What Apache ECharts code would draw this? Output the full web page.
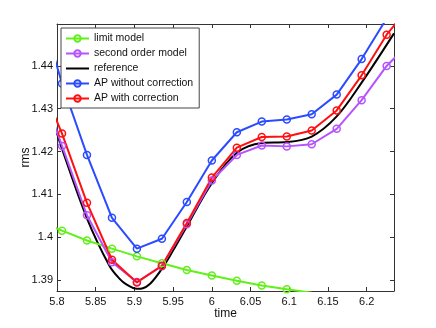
<!DOCTYPE html>
<html>
<head>
<meta charset="utf-8">
<script src="https://cdn.jsdelivr.net/npm/echarts@6/dist/echarts.min.js"></script>
<style>
  html, body { margin: 0; padding: 0; background: #fff; }
  #chart { width: 436px; height: 328px; }
</style>
</head>
<body>
<div id="chart"></div>
<script>
// sample times of the models (one marker per step)
const modelTime = [5.7742, 5.8065, 5.8387, 5.871, 5.9032, 5.9355, 5.9677, 6.0, 6.0323, 6.0645, 6.0968, 6.129, 6.1613, 6.1935, 6.2258, 6.2581];

const limitModel = [1.4039, 1.4015, 1.3992, 1.3973, 1.3955, 1.3939, 1.3923, 1.3910, 1.3898, 1.3887, 1.3878, 1.3870];
const secondOrder = [1.4376, 1.4213, 1.4051, 1.3941, 1.3895, 1.3932, 1.4030, 1.4132, 1.4192, 1.4214, 1.4212, 1.4217, 1.4253, 1.4320, 1.4400, 1.4459];
const apNoCorr = [1.4557, 1.4359, 1.4192, 1.4045, 1.3973, 1.3996, 1.4082, 1.4179, 1.4245, 1.4270, 1.4275, 1.4287, 1.4333, 1.4416, 1.4511];
const apCorr = [1.4381, 1.4242, 1.4080, 1.3947, 1.3894, 1.3933, 1.4033, 1.4139, 1.4209, 1.4234, 1.4235, 1.4249, 1.4296, 1.4378, 1.4473, 1.4544];

// reference curve (no markers)
const refTime = [5.8, 5.8065, 5.8387, 5.8677, 5.8806, 5.89, 5.9032, 5.91, 5.9203, 5.9355, 5.95, 5.9677, 6.0, 6.0323, 6.0645, 6.0968, 6.129, 6.1613, 6.1935, 6.2353];
const refValue = [1.4243, 1.4206, 1.4044, 1.3933, 1.3903, 1.3889, 1.3879, 1.3880, 1.3891, 1.3926, 1.3969, 1.4025, 1.4126, 1.4197, 1.4220, 1.4222, 1.4235, 1.4282, 1.4361, 1.4476];

const legendNames = ['limit model', 'second order model', 'reference', 'AP without correction', 'AP with correction'];

const xLimits = [5.8, 6.2353];
const yLimits = [1.3874, 1.4498];

function pairs(xs, ys) {
  return ys.map((y, i) => [xs[i], y]);
}

const font = '"Liberation Sans", Arial, sans-serif';

function markedSeries(name, color, values) {
  return {
    name: name,
    type: 'line',
    data: pairs(modelTime, values),
    symbol: 'circle',
    symbolSize: 7,
    lineStyle: { color: color, width: 2 },
    itemStyle: { color: 'rgba(0,0,0,0)', borderColor: color, borderWidth: 1.5 },
    emphasis: { disabled: true },
    z: 3
  };
}

const chart = echarts.init(document.getElementById('chart'));

const axisLine = { lineStyle: { color: '#333', width: 1 } };
const inTick = { inside: true, length: 4, lineStyle: { color: '#333' } };

chart.setOption({
  animation: false,
  backgroundColor: '#fff',
  textStyle: { fontFamily: font },
  grid: { left: 57, right: 42, top: 24, bottom: 37 },
  legend: {
    orient: 'vertical',
    left: 61,
    top: 28,
    padding: [5, 6, 4, 4],
    itemWidth: 23,
    itemHeight: 8,
    itemGap: 4,
    borderColor: '#444',
    borderWidth: 1,
    backgroundColor: '#fff',
    textStyle: { fontSize: 10.5, color: '#111', fontFamily: font },
    // the reference entry is a plain line, no marker
    data: legendNames.map(n => n === 'reference'
      ? { name: n, itemStyle: { color: 'rgba(0,0,0,0)', borderColor: 'rgba(0,0,0,0)' } }
      : { name: n })
  },
  xAxis: [{
    type: 'value',
    min: xLimits[0],
    max: xLimits[1],
    interval: 0.05,
    name: 'time',
    nameLocation: 'middle',
    nameGap: 17,
    nameMoveOverlap: false,
    nameTextStyle: { fontSize: 12, color: '#111' },
    axisLine: axisLine,
    axisTick: inTick,
    axisLabel: { fontSize: 11, color: '#111', margin: 5, showMaxLabel: false },
    splitLine: { show: false }
  }, {
    type: 'value',
    position: 'top',
    min: xLimits[0],
    max: xLimits[1],
    interval: 0.05,
    axisLine: axisLine,
    axisTick: inTick,
    axisLabel: { show: false },
    splitLine: { show: false }
  }],
  yAxis: [{
    type: 'value',
    min: yLimits[0],
    max: yLimits[1],
    splitNumber: 5,
    name: 'rms',
    nameLocation: 'middle',
    nameGap: 25,
    nameMoveOverlap: false,
    nameTextStyle: { fontSize: 12, color: '#111' },
    axisLine: axisLine,
    axisTick: inTick,
    axisLabel: { fontSize: 11, color: '#111', margin: 4, showMinLabel: false, showMaxLabel: false },
    splitLine: { show: false }
  }, {
    type: 'value',
    position: 'right',
    min: yLimits[0],
    max: yLimits[1],
    splitNumber: 5,
    axisLine: axisLine,
    axisTick: inTick,
    axisLabel: { show: false },
    splitLine: { show: false }
  }],
  series: [
    markedSeries('limit model', '#62f01a', limitModel),
    markedSeries('second order model', '#b653ff', secondOrder),
    {
      name: 'reference',
      type: 'line',
      data: pairs(refTime, refValue),
      symbol: 'none',
      smooth: 0.35,
      lineStyle: { color: '#000', width: 2 },
      itemStyle: { color: '#000' },
      emphasis: { disabled: true },
      z: 2
    },
    markedSeries('AP without correction', '#2b4bff', apNoCorr),
    markedSeries('AP with correction', '#ff1010', apCorr)
  ]
});
</script>
</body>
</html>
